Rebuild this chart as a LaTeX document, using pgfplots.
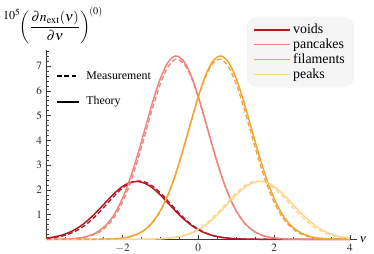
\documentclass[border=0pt]{standalone}
\usepackage{mathptmx}
\usepackage{fontspec}
\setmainfont{Liberation Serif}
\usepackage{pgfplots}
\pgfplotsset{compat=1.18}
\definecolor{cvoid}{RGB}{180,22,34}
\definecolor{cpan}{RGB}{240,132,122}
\definecolor{cfil}{RGB}{242,165,50}
\definecolor{cpeak}{RGB}{254,214,140}
\definecolor{axcol}{RGB}{60,60,60}
\begin{document}
\begin{tikzpicture}
\begin{axis}[
  scale only axis, width=232.5pt, height=141.975pt,
  xmin=-4, xmax=4.18, ymin=0, ymax=7.65,
  axis lines=left, axis line style={-, axcol, line width=0.5pt},
  tick align=inside,
  xtick={-2,0,2,4}, minor xtick={-3.5,-3,-2.5,-1.5,-1,-0.5,0.5,1,1.5,2.5,3,3.5},
  ytick={1,2,3,4,5,6,7},
  minor ytick={0.2,0.4,0.6,0.8,1.2,1.4,1.6,1.8,2.2,2.4,2.6,2.8,3.2,3.4,3.6,3.8,4.2,4.4,4.6,4.8,5.2,5.4,5.6,5.8,6.2,6.4,6.6,6.8,7.2,7.4,7.6},
  major tick length=3pt, minor tick length=1.6pt,
  every tick/.style={axcol, line width=0.4pt},
  tick label style={font=\fontsize{8.4}{9}\selectfont, text=black!85},
  xlabel={$\nu$}, xlabel style={at={(rel axis cs:1,0)}, anchor=west, inner sep=2pt, font=\fontsize{8.6}{9}\selectfont},
  legend style={at={(rel axis cs:0.645,1.178)}, anchor=north west, fill=black!4, draw=none,
    rounded corners=8pt, font=\fontsize{10.4}{11}\selectfont, inner xsep=5pt, inner ysep=3.5pt,
    row sep=-1.6pt, cells={anchor=west}},
  legend image code/.code={\draw[#1, line width=1.2pt, solid, sharp corners] (0pt,0pt) -- (26.5pt,0pt);},
  clip=false,
]
% theory
\addplot[cvoid, line width=1.1pt, smooth] coordinates {(-4.0,0.053)(-3.8,0.097)(-3.6,0.170)(-3.4,0.282)(-3.2,0.442)(-3.0,0.658)(-2.8,0.928)(-2.6,1.239)(-2.4,1.567)(-2.2,1.879)(-2.0,2.133)(-1.8,2.295)(-1.6,2.339)(-1.4,2.258)(-1.2,2.065)(-1.0,1.789)(-0.8,1.469)(-0.6,1.142)(-0.4,0.841)(-0.2,0.587)(0.0,0.388)(0.2,0.243)(0.4,0.144)(0.6,0.081)(0.8,0.043)(1.0,0.022)(1.2,0.010)(1.4,0.005)(1.6,0.002)(1.8,0.001)(2.0,0)(2.4,0)(2.8,0)(3.2,0)(3.6,0)(4.0,0)};
\addlegendentry{voids}
\addplot[cpan, line width=1.1pt, smooth] coordinates {(-4.0,0.001)(-3.8,0.003)(-3.6,0.008)(-3.4,0.020)(-3.2,0.045)(-3.0,0.095)(-2.8,0.190)(-2.6,0.357)(-2.4,0.631)(-2.2,1.052)(-2.0,1.654)(-1.8,2.450)(-1.6,3.418)(-1.4,4.494)(-1.2,5.568)(-1.0,6.499)(-0.8,7.148)(-0.6,7.408)(-0.4,7.234)(-0.2,6.656)(0.0,5.770)(0.2,4.714)(0.4,3.628)(0.6,2.631)(0.8,1.797)(1.0,1.158)(1.2,0.703)(1.4,0.402)(1.6,0.216)(1.8,0.110)(2.0,0.052)(2.2,0.024)(2.4,0.010)(2.6,0.004)(2.8,0.001)(3.2,0)(3.6,0)(4.0,0)};
\addlegendentry{pancakes}
\addplot[cfil, line width=1.1pt, smooth] coordinates {(-4.0,0)(-3.6,0)(-3.2,0)(-2.8,0.001)(-2.6,0.004)(-2.4,0.010)(-2.2,0.024)(-2.0,0.052)(-1.8,0.110)(-1.6,0.216)(-1.4,0.402)(-1.2,0.703)(-1.0,1.158)(-0.8,1.797)(-0.6,2.631)(-0.4,3.628)(-0.2,4.714)(0.0,5.770)(0.2,6.656)(0.4,7.234)(0.6,7.408)(0.8,7.148)(1.0,6.499)(1.2,5.568)(1.4,4.494)(1.6,3.418)(1.8,2.450)(2.0,1.654)(2.2,1.052)(2.4,0.631)(2.6,0.357)(2.8,0.190)(3.0,0.095)(3.2,0.045)(3.4,0.020)(3.6,0.008)(3.8,0.003)(4.0,0.001)};
\addlegendentry{filaments}
\addplot[cpeak, line width=1.1pt, smooth] coordinates {(-4.0,0)(-3.6,0)(-3.2,0)(-2.8,0)(-2.4,0)(-2.0,0)(-1.8,0.001)(-1.6,0.002)(-1.4,0.005)(-1.2,0.010)(-1.0,0.022)(-0.8,0.043)(-0.6,0.081)(-0.4,0.144)(-0.2,0.243)(0.0,0.388)(0.2,0.587)(0.4,0.841)(0.6,1.142)(0.8,1.469)(1.0,1.789)(1.2,2.065)(1.4,2.258)(1.6,2.339)(1.8,2.295)(2.0,2.133)(2.2,1.879)(2.4,1.567)(2.6,1.239)(2.8,0.928)(3.0,0.658)(3.2,0.442)(3.4,0.282)(3.6,0.170)(3.8,0.097)(4.0,0.053)};
\addlegendentry{peaks}
% measurement
\addplot[cvoid, line width=1pt, dash pattern=on 3.5pt off 2pt, smooth, forget plot] coordinates {(-4.0,0.036)(-3.8,0.070)(-3.6,0.127)(-3.4,0.220)(-3.2,0.359)(-3.0,0.554)(-2.8,0.808)(-2.6,1.113)(-2.4,1.449)(-2.2,1.781)(-2.0,2.070)(-1.8,2.273)(-1.6,2.359)(-1.4,2.312)(-1.2,2.142)(-1.0,1.875)(-0.8,1.551)(-0.6,1.212)(-0.4,0.895)(-0.2,0.624)(0.0,0.411)(0.2,0.256)(0.4,0.151)(0.6,0.084)(0.8,0.044)(1.0,0.022)(1.2,0.010)(1.4,0.004)(1.6,0.001)(2.0,0)};
\addplot[cpan, line width=1pt, dash pattern=on 3.5pt off 2pt, smooth, forget plot] coordinates {(-4.0,0.001)(-3.6,0.006)(-3.4,0.016)(-3.2,0.036)(-3.0,0.078)(-2.8,0.159)(-2.6,0.305)(-2.4,0.552)(-2.2,0.937)(-2.0,1.499)(-1.8,2.255)(-1.6,3.193)(-1.4,4.252)(-1.2,5.328)(-1.0,6.281)(-0.8,6.967)(-0.6,7.271)(-0.4,7.140)(-0.2,6.596)(0.0,5.732)(0.2,4.688)(0.4,3.607)(0.6,2.611)(0.8,1.778)(1.0,1.139)(1.2,0.687)(1.4,0.390)(1.6,0.208)(1.8,0.104)(2.0,0.049)(2.2,0.022)(2.4,0.009)(2.6,0.004)(2.8,0.001)(3.2,0)};
\addplot[cfil, line width=1pt, dash pattern=on 3.5pt off 2pt, smooth, forget plot] coordinates {(-3.2,0)(-2.8,0.001)(-2.6,0.004)(-2.4,0.009)(-2.2,0.022)(-2.0,0.049)(-1.8,0.104)(-1.6,0.208)(-1.4,0.390)(-1.2,0.687)(-1.0,1.139)(-0.8,1.778)(-0.6,2.611)(-0.4,3.607)(-0.2,4.688)(0.0,5.732)(0.2,6.596)(0.4,7.140)(0.6,7.271)(0.8,6.967)(1.0,6.281)(1.2,5.328)(1.4,4.252)(1.6,3.193)(1.8,2.255)(2.0,1.499)(2.2,0.937)(2.4,0.552)(2.6,0.305)(2.8,0.159)(3.0,0.078)(3.2,0.036)(3.4,0.016)(3.6,0.006)(4.0,0.001)};
\addplot[cpeak, line width=1pt, dash pattern=on 3.5pt off 2pt, smooth, forget plot] coordinates {(-2.0,0)(-1.6,0.001)(-1.4,0.004)(-1.2,0.010)(-1.0,0.022)(-0.8,0.044)(-0.6,0.084)(-0.4,0.151)(-0.2,0.256)(0.0,0.411)(0.2,0.624)(0.4,0.895)(0.6,1.212)(0.8,1.551)(1.0,1.875)(1.2,2.142)(1.4,2.312)(1.6,2.359)(1.8,2.273)(2.0,2.070)(2.2,1.781)(2.4,1.449)(2.6,1.113)(2.8,0.808)(3.0,0.554)(3.2,0.359)(3.4,0.220)(3.6,0.127)(3.8,0.070)(4.0,0.036)};
% line-style key
\draw[black, line width=1pt, dash pattern=on 3.5pt off 2pt] (rel axis cs:0.033,0.863) -- (rel axis cs:0.104,0.863);
\node[anchor=west, inner sep=0pt, font=\fontsize{8.9}{10}\selectfont] at (rel axis cs:0.127,0.863) {Measurement};
\draw[black, line width=1pt] (rel axis cs:0.033,0.725) -- (rel axis cs:0.104,0.725);
\node[anchor=west, inner sep=0pt, font=\fontsize{8.9}{10}\selectfont] at (rel axis cs:0.127,0.725) {Theory};
% y label
\node[anchor=base west, inner sep=0pt, font=\fontsize{9}{10}\selectfont] at (rel axis cs:-0.141,1.1585) {$10^5$};
\node[anchor=base west, inner sep=0pt, font=\fontsize{10.3}{11}\selectfont] at (rel axis cs:-0.0877,1.102) {$\left({\displaystyle\frac{\partial n_{\mathrm{ext}}(\nu)}{\partial\nu}}\right)^{\!(0)}$};
\coordinate (bbsw) at (rel axis cs:-0.1506,-0.0724);
\coordinate (bbne) at (rel axis cs:1.0558,1.2641);
\end{axis}
\pgfresetboundingbox
\useasboundingbox (bbsw) rectangle (bbne);
\end{tikzpicture}
\end{document}
